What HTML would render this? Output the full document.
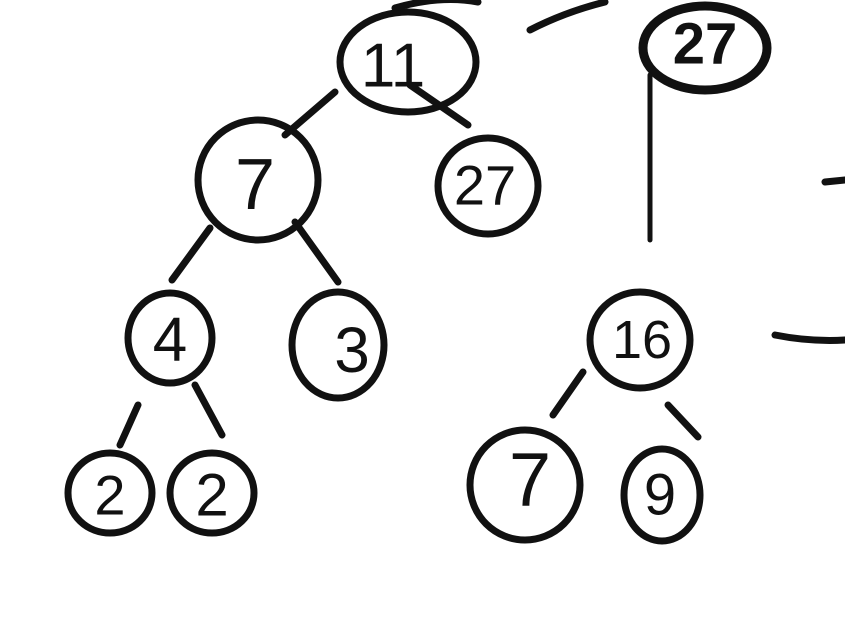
<!DOCTYPE html>
<html><head><meta charset="utf-8"><style>
html,body{margin:0;padding:0;background:#fff;width:845px;height:636px;overflow:hidden}
svg text{font-family:"Liberation Sans",sans-serif;fill:#111;text-anchor:middle;dominant-baseline:central}
</style></head><body>
<svg width="845" height="636" viewBox="0 0 845 636">
<g fill="none" stroke="#111" stroke-width="7" stroke-linecap="round">
<g><ellipse cx="408" cy="62" rx="68" ry="50"/><path d="M395 8 Q440 -5 478 2"/></g>
<g><ellipse cx="705" cy="48" rx="62" ry="42" stroke-width="9"/></g>
<g><ellipse cx="258" cy="180" rx="60" ry="60"/></g>
<g><ellipse cx="488" cy="186" rx="50" ry="48"/></g>
<g><ellipse cx="170" cy="338" rx="42" ry="45"/></g>
<g><ellipse cx="338" cy="345" rx="46" ry="53"/></g>
<g><ellipse cx="640" cy="340" rx="50" ry="48"/></g>
<g><ellipse cx="110" cy="493" rx="42" ry="40"/></g>
<g><ellipse cx="212" cy="493" rx="42" ry="40"/></g>
<g><ellipse cx="525" cy="485" rx="55" ry="55"/></g>
<g><ellipse cx="662" cy="495" rx="38" ry="46"/></g>
<g>
<path d="M335 92 L285 135"/><path d="M410 85 L468 125"/>
<path d="M210 228 L172 280"/><path d="M295 222 L338 282"/>
<path d="M138 405 L120 445"/><path d="M195 385 L222 435"/>
<path d="M583 372 L553 415"/><path d="M668 405 L698 437"/>
<path d="M650 75 L650 240" stroke-width="5"/>
<path d="M530 30 Q565 12 605 2"/>
<path d="M825 182 L845 180"/><path d="M775 335 Q810 342 845 340"/>
</g>
</g>
<text x="393" y="66" font-size="62">11</text>
<text x="705" y="44" font-size="58" font-weight="bold">27</text>
<text x="255" y="185" font-size="72">7</text>
<text x="485" y="185" font-size="56">27</text>
<text x="170" y="340" font-size="62">4</text>
<text x="352" y="350" font-size="64">3</text>
<text x="642" y="340" font-size="54">16</text>
<text x="110" y="495" font-size="56">2</text>
<text x="212" y="495" font-size="60">2</text>
<text x="530" y="480" font-size="76">7</text>
<text x="660" y="495" font-size="58">9</text>
</svg>
</body></html>
